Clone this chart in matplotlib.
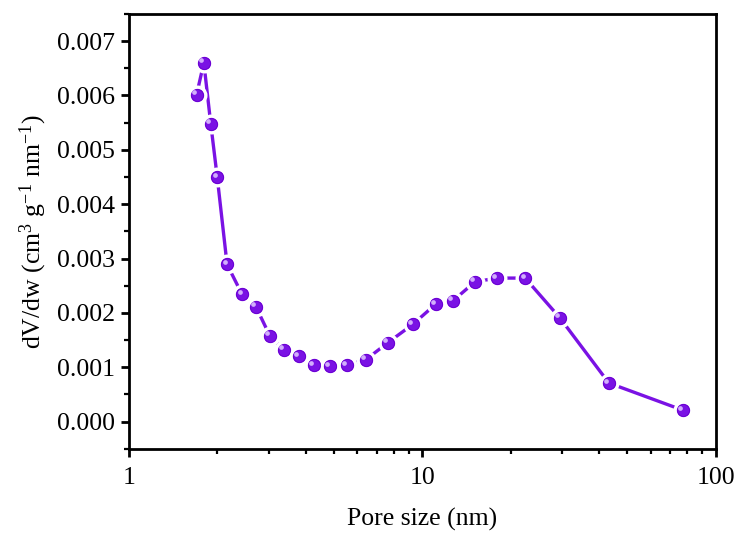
import numpy as np
import matplotlib.pyplot as plt
from matplotlib.ticker import MultipleLocator, LogLocator, NullFormatter, FixedLocator
from matplotlib.transforms import ScaledTranslation

plt.rcParams.update({
    "font.family": "Liberation Serif",
    "mathtext.fontset": "custom",
    "mathtext.rm": "Liberation Serif",
    "mathtext.it": "Liberation Serif:italic",
    "font.size": 18,
})

# pore size distribution
pore_size = [1.70, 1.80, 1.90, 2.00, 2.16, 2.43, 2.71, 3.02, 3.37, 3.79, 4.27,
             4.84, 5.53, 6.42, 7.62, 9.28, 11.1, 12.7, 15.1, 17.9, 22.4, 29.4,
             43.2, 77.2]
dvdw = [0.00601, 0.00660, 0.00548, 0.00449, 0.00289, 0.00234, 0.00211,
        0.00158, 0.00132, 0.00120, 0.00104, 0.00102, 0.00104, 0.00114,
        0.00145, 0.00179, 0.00216, 0.00222, 0.00257, 0.00264, 0.00264,
        0.00191, 0.00071, 0.00021]

purple = "#7A12E4"

fig = plt.figure(figsize=(7.41, 5.33), dpi=100)
ax = fig.add_axes([0.174, 0.158, 0.792, 0.816])

ax.plot(pore_size, dvdw, color=purple, lw=2.4, zorder=2)
# white ring leaves a small gap between line and sphere
ax.plot(pore_size, dvdw, ls="none", marker="o", ms=12, mfc=purple,
        mec="white", mew=2.4, zorder=3)
ax.plot(pore_size, dvdw, ls="none", marker="o", ms=8.6, mfc=purple,
        mec="#6A00D0", mew=0.6, zorder=4)
# highlight on the spheres
hl = ax.transData + ScaledTranslation(-1.8 / 72, 1.8 / 72, fig.dpi_scale_trans)
ax.plot(pore_size, dvdw, ls="none", marker="o", ms=3.4, mfc="#DCC0FF",
        mec="none", alpha=0.9, zorder=5, transform=hl)

ax.set_xscale("log")
ax.set_xlim(1, 100)
ax.set_ylim(-0.0005, 0.0075)

ax.xaxis.set_major_locator(FixedLocator([1, 10, 100]))
ax.set_xticklabels(["1", "10", "100"])
ax.xaxis.set_minor_locator(LogLocator(base=10, subs=np.arange(2, 10)))
ax.xaxis.set_minor_formatter(NullFormatter())
ax.yaxis.set_major_locator(FixedLocator(np.arange(0, 0.0071, 0.001)))
ax.set_yticklabels([f"{v:.3f}" for v in np.arange(0, 0.0071, 0.001)])
ax.yaxis.set_minor_locator(MultipleLocator(0.0005))

for s in ax.spines.values():
    s.set_linewidth(2.0)
ax.tick_params(which="major", direction="out", length=6, width=2.0,
               labelsize=18.5, pad=4)
ax.tick_params(which="minor", direction="out", length=3.5, width=1.6)
ax.tick_params(axis="x", which="major", pad=7)

ax.set_xlabel("Pore size (nm)", fontsize=18.5, labelpad=14)
ax.set_ylabel(r"dV/dw (cm$^{3}$ g$^{-1}$ nm$^{-1}$)", fontsize=18.5, labelpad=6)

fig.savefig("out.png", dpi=100)
